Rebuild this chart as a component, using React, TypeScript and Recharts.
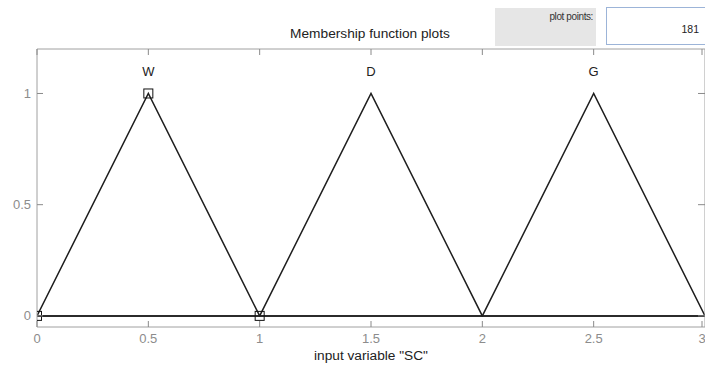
import React from 'react';
import { ComposedChart, Line, Scatter, XAxis, YAxis } from 'recharts';

// membership function breakpoints on the input range
const inputPoints = [0, 0.5, 1, 1.5, 2, 2.5, 3];
const wValues = [0, 1, 0, 0, 0, 0, 0];
const dValues = [0, 0, 0, 1, 0, 0, 0];
const gValues = [0, 0, 0, 0, 0, 1, 0];

const mfNames = ['W', 'D', 'G'];
const mfPeaks = [0.5, 1.5, 2.5];

// selected mf (W) vertex markers
const markerX = [0, 0.5, 1];
const markerY = [0, 1, 0];

const xTicks = [0, 0.5, 1, 1.5, 2, 2.5, 3];
const yTicks = [0, 0.5, 1];

const data = inputPoints.map((x, i) => ({ x, W: wValues[i], D: dValues[i], G: gValues[i] }));
const markers = markerX.map((x, i) => ({ x, y: markerY[i] }));
const peaks = mfPeaks.map((x, i) => ({ x, y: 1, name: mfNames[i] }));

const FONT = '"Liberation Sans", Arial, sans-serif';
const FRAME = '#a0a0a0';
const TICK = '#8a8a8a';
const LABEL = '#8c8c8c';
const LINE = '#1e1e1e';

const BottomTick = (props: any) => {
  const { x, y, payload } = props;
  return (
    <g>
      <line x1={x} x2={x} y1={y} y2={y - 6} stroke={TICK} />
      <text x={x} y={y + 16} textAnchor="middle" fill={LABEL} fontSize={13} fontFamily={FONT}>
        {payload.value}
      </text>
    </g>
  );
};

const TopTick = (props: any) => {
  const { x, y } = props;
  return <line x1={x} x2={x} y1={y} y2={y + 6} stroke={TICK} />;
};

const LeftTick = (props: any) => {
  const { x, y, payload } = props;
  return (
    <g>
      <line x1={x} x2={x + 6} y1={y} y2={y} stroke={TICK} />
      <text x={x - 6} y={y + 4.5} textAnchor="end" fill={LABEL} fontSize={13} fontFamily={FONT}>
        {payload.value}
      </text>
    </g>
  );
};

const RightTick = (props: any) => {
  const { x, y } = props;
  return <line x1={x - 7} x2={x} y1={y} y2={y} stroke={TICK} />;
};

const SquareMarker = (props: any) => {
  const { cx, cy } = props;
  return <rect x={cx - 4.5} y={cy - 4.5} width={9} height={9} fill="none" stroke="#111" strokeWidth={1} />;
};

const PeakName = (props: any) => {
  const { cx, cy, payload } = props;
  return (
    <text x={cx} y={cy - 17} textAnchor="middle" fill="#222" fontSize={13} fontFamily={FONT}>
      {payload.name}
    </text>
  );
};

export default function App() {
  return (
    <div style={{ position: 'absolute', left: 0, top: 0, width: 705, height: 370, overflow: 'hidden', background: '#fff', fontFamily: FONT }}>
      <div style={{ position: 'absolute', left: 0, width: 740, top: 26, textAlign: 'center', fontSize: 13.7, color: '#222' }}>
        Membership function plots
      </div>
      <div style={{ position: 'absolute', left: 495, top: 8, width: 101, height: 38, background: '#e6e6e6' }}>
        <div style={{ position: 'absolute', right: 3, top: 3, fontSize: 10, color: '#333', letterSpacing: -0.4 }}>plot points:</div>
      </div>
      <div style={{ position: 'absolute', left: 606, top: 7, width: 110, height: 38, boxSizing: 'border-box', border: '1px solid #9cb4d8', background: '#fff' }}>
        <div style={{ position: 'absolute', right: 16, top: 15, fontSize: 10.5, color: '#222' }}>181</div>
      </div>
      <ComposedChart width={706} height={370} data={data} margin={{ top: 48, right: 0, bottom: 0, left: 0 }} style={{ position: 'absolute', left: 0, top: 0 }}>
        <XAxis
          dataKey="x"
          type="number"
          domain={[0, 3]}
          ticks={xTicks}
          height={43}
          tickSize={0}
          tickMargin={0}
          tickLine={false}
          tick={<BottomTick />}
          axisLine={{ stroke: FRAME }}
          allowDataOverflow
          label={{ value: 'input variable "SC"', position: 'insideBottom', offset: 10, fill: '#222', fontSize: 13.7, fontFamily: FONT }}
        />
        <XAxis
          xAxisId="top"
          orientation="top"
          dataKey="x"
          type="number"
          domain={[0, 3]}
          ticks={xTicks}
          height={1}
          tickSize={0}
          tickMargin={0}
          tickLine={false}
          tick={<TopTick />}
          axisLine={{ stroke: FRAME }}
          allowDataOverflow
        />
        <YAxis
          type="number"
          domain={[-0.05, 1.2]}
          ticks={yTicks}
          width={37}
          tickSize={0}
          tickMargin={0}
          tickLine={false}
          tick={<LeftTick />}
          axisLine={{ stroke: FRAME }}
          allowDataOverflow
        />
        <YAxis
          yAxisId="right"
          orientation="right"
          type="number"
          domain={[-0.05, 1.2]}
          ticks={yTicks}
          width={1}
          tickSize={0}
          tickMargin={0}
          tickLine={false}
          tick={<RightTick />}
          axisLine={{ stroke: FRAME }}
          allowDataOverflow
        />
        {/* hidden series so the top/right frame axes get rendered */}
        <Line xAxisId="top" yAxisId="right" dataKey="W" stroke="none" dot={false} activeDot={false} legendType="none" isAnimationActive={false} />
        <Line dataKey="W" stroke={LINE} strokeWidth={1.5} dot={false} isAnimationActive={false} />
        <Line dataKey="D" stroke={LINE} strokeWidth={1.5} dot={false} isAnimationActive={false} />
        <Line dataKey="G" stroke={LINE} strokeWidth={1.5} dot={false} isAnimationActive={false} />
        <Scatter data={markers} dataKey="y" shape={<SquareMarker />} isAnimationActive={false} />
        <Scatter data={peaks} dataKey="y" shape={<PeakName />} isAnimationActive={false} />
      </ComposedChart>
    </div>
  );
}
